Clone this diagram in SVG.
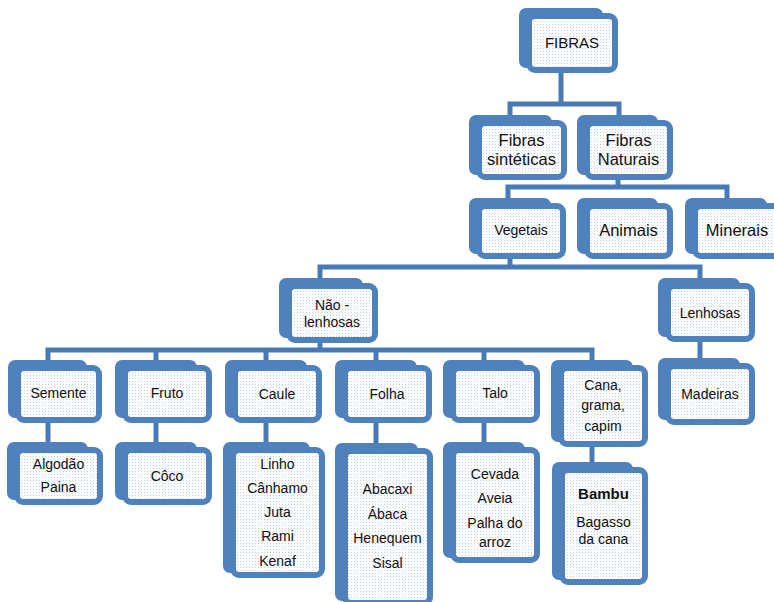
<svg xmlns="http://www.w3.org/2000/svg" width="774" height="602" viewBox="0 0 774 602">
<defs>
<pattern id="dots" width="3" height="3" patternUnits="userSpaceOnUse">
<rect width="3" height="3" fill="#ffffff"/>
<rect x="0" y="0" width="1" height="1" fill="#c6d0df"/>
<rect x="1.5" y="1.5" width="1" height="1" fill="#e3e8f0"/>
</pattern>
</defs>
<style>
.bk{fill:#4f81bd}
.fr{fill:url(#dots);stroke:#4f81bd;stroke-width:6}
.cn{fill:none;stroke:#4a7ab5;stroke-width:5;stroke-linejoin:miter}
text{font-family:"Liberation Sans",Arial,sans-serif;fill:#111;text-anchor:middle}
.s14{font-size:14px}
.s15{font-size:15px}
.s16{font-size:16.5px}
.b{font-weight:bold;font-size:15px}
</style>
<g id="connectors">
<path class="cn" d="M561,73 V104 M510,116 V104 H619 V116"/>
<path class="cn" d="M618,180 V187 M508,199 V187 H727 V199"/>
<path class="cn" d="M510,258 V267 M320,279 V267 H700 V279"/>
<path class="cn" d="M320,343 V350 M48,361 V350 H592 V361 M156,350 V361 M266,350 V361 M376,350 V361 M484,350 V361"/>
<path class="cn" d="M700,342 V359"/>
<path class="cn" d="M48,423 V443 M156,423 V443 M266,423 V443 M376,423 V444 M484,423 V443 M592,447 V463"/>
</g>
<g id="n-fibras"><rect class="bk" x="519" y="8" width="84" height="60" rx="7"/><rect class="fr" x="529" y="16" width="86" height="54" rx="6"/><text class="s15" x="572" y="48">FIBRAS</text></g>
<g id="n-sinteticas"><rect class="bk" x="469" y="115" width="83" height="60" rx="7"/><rect class="fr" x="479" y="123" width="85" height="54" rx="6"/><text class="s16" x="521.5" y="146">Fibras</text><text class="s16" x="521.5" y="165">sintéticas</text></g>
<g id="n-naturais"><rect class="bk" x="577" y="115" width="81" height="60" rx="7"/><rect class="fr" x="587" y="123" width="83" height="54" rx="6"/><text class="s16" x="628.5" y="146">Fibras</text><text class="s16" x="628.5" y="165">Naturais</text></g>
<g id="n-vegetais"><rect class="bk" x="469" y="198" width="82" height="56" rx="7"/><rect class="fr" x="479" y="206" width="84" height="50" rx="6"/><text class="s14" x="521" y="235">Vegetais</text></g>
<g id="n-animais"><rect class="bk" x="577" y="198" width="81" height="56" rx="7"/><rect class="fr" x="587" y="206" width="83" height="50" rx="6"/><text class="s16" x="628.5" y="236">Animais</text></g>
<g id="n-minerais"><rect class="bk" x="685" y="198" width="82" height="56" rx="7"/><rect class="fr" x="695" y="206" width="84" height="50" rx="6"/><text class="s16" x="737" y="236">Minerais</text></g>
<g id="n-naolenhosas"><rect class="bk" x="279" y="278" width="84" height="60" rx="7"/><rect class="fr" x="289" y="286" width="86" height="54" rx="6"/><text class="s14" x="332" y="310">Não -</text><text class="s14" x="332" y="327">lenhosas</text></g>
<g id="n-lenhosas"><rect class="bk" x="658" y="278" width="82" height="59" rx="7"/><rect class="fr" x="668" y="286" width="84" height="53" rx="6"/><text class="s14" x="710" y="318">Lenhosas</text></g>
<g id="n-madeiras"><rect class="bk" x="658" y="358" width="82" height="62" rx="7"/><rect class="fr" x="668" y="366" width="84" height="56" rx="6"/><text class="s14" x="710" y="399">Madeiras</text></g>
<g id="n-semente"><rect class="bk" x="8" y="360" width="79" height="58" rx="7"/><rect class="fr" x="18" y="368" width="81" height="52" rx="6"/><text class="s14" x="58.5" y="398">Semente</text></g>
<g id="n-fruto"><rect class="bk" x="115" y="360" width="82" height="58" rx="7"/><rect class="fr" x="125" y="368" width="84" height="52" rx="6"/><text class="s14" x="167" y="398">Fruto</text></g>
<g id="n-caule"><rect class="bk" x="225" y="360" width="82" height="58" rx="7"/><rect class="fr" x="235" y="368" width="84" height="52" rx="6"/><text class="s14" x="277" y="399">Caule</text></g>
<g id="n-folha"><rect class="bk" x="335" y="360" width="82" height="58" rx="7"/><rect class="fr" x="345" y="368" width="84" height="52" rx="6"/><text class="s14" x="387" y="399">Folha</text></g>
<g id="n-talo"><rect class="bk" x="443" y="360" width="82" height="58" rx="7"/><rect class="fr" x="453" y="368" width="84" height="52" rx="6"/><text class="s14" x="495" y="398">Talo</text></g>
<g id="n-cana"><rect class="bk" x="551" y="360" width="82" height="82" rx="7"/><rect class="fr" x="561" y="368" width="84" height="76" rx="6"/><text class="s14" x="603" y="390">Cana,</text><text class="s14" x="603" y="410">grama,</text><text class="s14" x="603" y="431">capim</text></g>
<g id="n-algodao"><rect class="bk" x="7" y="442" width="81" height="58" rx="7"/><rect class="fr" x="17" y="450" width="83" height="52" rx="6"/><text class="s14" x="58.5" y="469">Algodão</text><text class="s14" x="58.5" y="492">Paina</text></g>
<g id="n-coco"><rect class="bk" x="115" y="442" width="82" height="58" rx="7"/><rect class="fr" x="125" y="450" width="84" height="52" rx="6"/><text class="s14" x="167" y="481">Côco</text></g>
<g id="n-linho"><rect class="bk" x="223" y="442" width="87" height="131" rx="7"/><rect class="fr" x="233" y="450" width="89" height="125" rx="6"/><text class="s14" x="277.5" y="469">Linho</text><text class="s14" x="277.5" y="493">Cânhamo</text><text class="s14" x="277.5" y="517">Juta</text><text class="s14" x="277.5" y="541">Rami</text><text class="s14" x="277.5" y="566">Kenaf</text></g>
<g id="n-abacaxi"><rect class="bk" x="335" y="443" width="83" height="158" rx="7"/><rect class="fr" x="345" y="451" width="85" height="152" rx="6"/><text class="s14" x="387.5" y="494">Abacaxi</text><text class="s14" x="387.5" y="519">Ábaca</text><text class="s14" x="387.5" y="543">Henequem</text><text class="s14" x="387.5" y="568">Sisal</text></g>
<g id="n-cevada"><rect class="bk" x="443" y="442" width="82" height="116" rx="7"/><rect class="fr" x="453" y="450" width="84" height="110" rx="6"/><text class="s14" x="495" y="479">Cevada</text><text class="s14" x="495" y="503">Aveia</text><text class="s14" x="495" y="528">Palha do</text><text class="s14" x="495" y="547">arroz</text></g>
<g id="n-bambu"><rect class="bk" x="552" y="462" width="81" height="118" rx="7"/><rect class="fr" x="562" y="470" width="83" height="112" rx="6"/><text class="b" x="603.5" y="499">Bambu</text><text class="s14" x="603.5" y="527">Bagasso</text><text class="s14" x="603.5" y="544">da cana</text></g>
</svg>
